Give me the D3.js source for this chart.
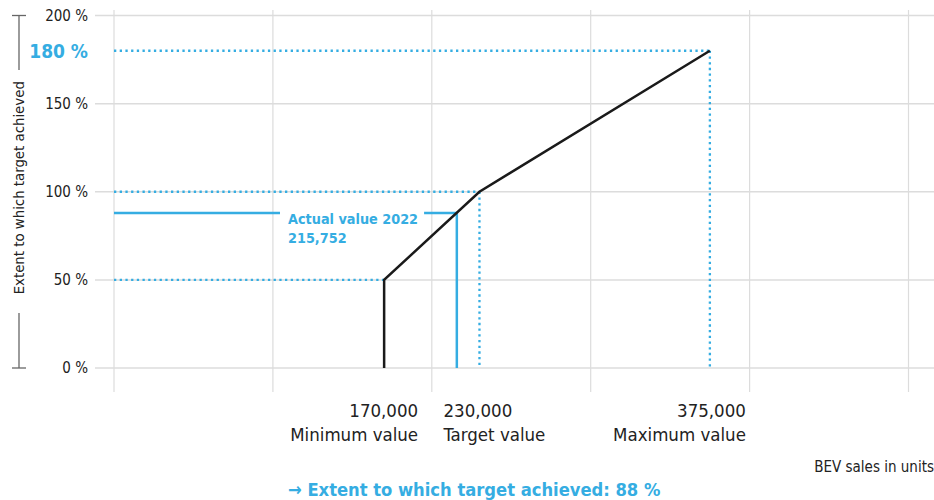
<!DOCTYPE html>
<html>
<head>
<meta charset="utf-8">
<script src="https://cdn.jsdelivr.net/npm/d3@7"></script>
<style>
  body { margin: 0; background: #fff; }
  svg text { font-family: "DejaVu Sans Condensed", "Roboto", sans-serif; }
</style>
</head>
<body>
<div id="chart"></div>
<script>
// values
const pctTicks = [0, 50, 100, 150, 200];
const unitGrid = [0, 100000, 200000, 300000, 400000, 500000];
const markValues = [170000, 230000, 375000];
const markNames = ["Minimum value", "Target value", "Maximum value"];
const markPcts = [50, 100, 180];
const curveUnits = [170000, 170000, 230000, 375000];
const curvePcts = [0, 50, 100, 180];
const actualUnits = 215752;
const actualPct = 88;

const width = 934, height = 500,
    blue = "#35ade2",
    grid = "#dcdcdc",
    ink = "#222";

const x = d3.scaleLinear().domain([0, 500000]).range([114, 908.5]);
const y = d3.scaleLinear().domain([0, 200]).range([368, 15.5]);

const svg = d3.select("#chart").append("svg")
    .attr("width", width)
    .attr("height", height);

// grid
svg.append("g").selectAll("line")
    .data(pctTicks)
    .join("line")
    .attr("x1", 95).attr("x2", width)
    .attr("y1", d => y(d)).attr("y2", d => y(d))
    .attr("stroke", grid).attr("stroke-width", 1.5);

svg.append("g").selectAll("line")
    .data(unitGrid)
    .join("line")
    .attr("x1", d => x(d)).attr("x2", d => x(d))
    .attr("y1", 10).attr("y2", 392)
    .attr("stroke", grid).attr("stroke-width", 1.2);

// y axis labels
const yAxis = d3.axisLeft(y)
    .tickValues(pctTicks)
    .tickSize(0)
    .tickPadding(0)
    .tickFormat(d => d + " %");

svg.append("g")
    .attr("transform", "translate(88,0)")
    .call(yAxis)
    .call(g => g.select(".domain").remove())
    .call(g => g.selectAll("text")
        .attr("fill", ink)
        .style("font-size", "15px"));

// highlighted max pct label
svg.append("text")
    .attr("x", 88).attr("y", y(180) + 1)
    .attr("dy", "0.35em")
    .attr("text-anchor", "end")
    .attr("fill", blue)
    .style("font-size", "19px")
    .style("font-weight", "bold")
    .text("180 %");

// y title with bracket
const yTitleX = 19;
svg.append("text")
    .attr("transform", `translate(${yTitleX + 5},${(y(0) + y(200)) / 2 - 4}) rotate(-90)`)
    .attr("text-anchor", "middle")
    .attr("fill", ink)
    .style("font-size", "14.8px")
    .text("Extent to which target achieved");

const bracket = svg.append("g").attr("stroke", "#666").attr("stroke-width", 1.3);
bracket.append("line").attr("x1", yTitleX).attr("x2", yTitleX).attr("y1", y(200)).attr("y2", 70);
bracket.append("line").attr("x1", yTitleX).attr("x2", yTitleX).attr("y1", 313).attr("y2", y(0));
bracket.append("line").attr("x1", 12).attr("x2", 26).attr("y1", y(200)).attr("y2", y(200));
bracket.append("line").attr("x1", 12).attr("x2", 26).attr("y1", y(0)).attr("y2", y(0));

// dotted guides
const dots = svg.append("g")
    .attr("stroke", blue)
    .attr("stroke-width", 2.3)
    .attr("stroke-dasharray", "2.3 3.4")
    .attr("fill", "none");

markValues.forEach((v, i) => {
    dots.append("line")
        .attr("x1", x(0)).attr("x2", x(v))
        .attr("y1", y(markPcts[i])).attr("y2", y(markPcts[i]));
    if (i > 0) {
        dots.append("line")
            .attr("x1", x(v)).attr("x2", x(v))
            .attr("y1", y(markPcts[i])).attr("y2", y(0));
    }
});

// actual value
const labelX = 288;
const lab = svg.append("text")
    .attr("x", labelX).attr("y", y(actualPct) + 11)
    .attr("fill", blue)
    .style("font-size", "14.3px")
    .style("font-weight", "bold");
lab.append("tspan").text("Actual value 2022");
lab.append("tspan").attr("x", labelX).attr("dy", "1.35em").text(d3.format(",")(actualUnits));
const labW = lab.node().firstChild.getComputedTextLength();

const act = svg.append("g").attr("stroke", blue).attr("stroke-width", 2.5);
act.append("line")
    .attr("x1", x(0)).attr("x2", labelX - 8)
    .attr("y1", y(actualPct)).attr("y2", y(actualPct));
act.append("line")
    .attr("x1", labelX + labW + 6).attr("x2", x(actualUnits))
    .attr("y1", y(actualPct)).attr("y2", y(actualPct));
act.append("line")
    .attr("x1", x(actualUnits)).attr("x2", x(actualUnits))
    .attr("y1", y(actualPct)).attr("y2", y(0));

// achievement curve
const curve = curveUnits.map((u, i) => [u, curvePcts[i]]);
svg.append("path")
    .datum(curve)
    .attr("fill", "none")
    .attr("stroke", "#1a1a1a")
    .attr("stroke-width", 2.5)
    .attr("stroke-linejoin", "miter")
    .attr("d", d3.line().x(d => x(d[0])).y(d => y(d[1])));

// x labels
const anchors = ["end", "start", "end"];
const offsets = [34, -36, 36];
markValues.forEach((v, i) => {
    const t = svg.append("text")
        .attr("x", x(v) + offsets[i])
        .attr("y", 417)
        .attr("text-anchor", anchors[i])
        .attr("fill", ink)
        .style("font-size", "18.5px");
    t.append("tspan").text(d3.format(",")(v));
    t.append("tspan").attr("x", x(v) + offsets[i]).attr("dy", "1.3em").text(markNames[i]);
});

svg.append("text")
    .attr("x", width).attr("y", 472)
    .attr("text-anchor", "end")
    .attr("fill", ink)
    .style("font-size", "15px")
    .text("BEV sales in units");

svg.append("text")
    .attr("x", 288).attr("y", 496)
    .attr("fill", blue)
    .style("font-size", "18.2px")
    .style("font-weight", "bold")
    .text("\u2192 Extent to which target achieved: " + actualPct + " %");
</script>
</body>
</html>
